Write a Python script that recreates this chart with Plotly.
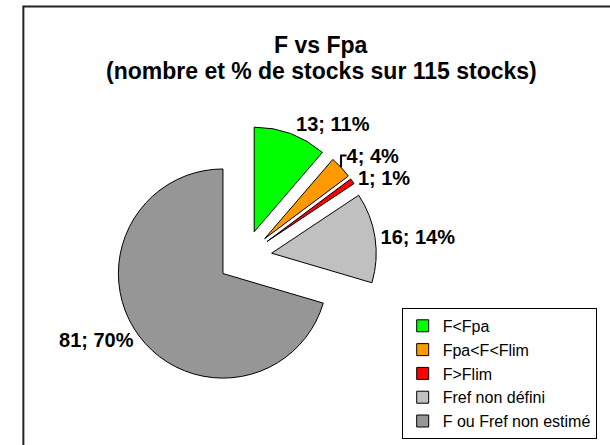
import plotly.graph_objects as go

categories = ["F<Fpa", "Fpa<F<Flim", "F>Flim", "Fref non défini", "F ou Fref non estimé"]
counts = [13, 4, 1, 16, 81]
pct_labels = ["11%", "4%", "1%", "14%", "70%"]
colors = ["#00FF00", "#FF9900", "#FF0000", "#C0C0C0", "#969696"]
title_lines = ["F vs Fpa", "(nombre et % de stocks sur 115 stocks)"]

W, H = 610, 445
FONT = "Liberation Sans, Arial, sans-serif"

fig = go.Figure(go.Pie(
    labels=categories,
    values=counts,
    text=pct_labels,
    texttemplate="%{value}; %{text}",
    textposition="outside",
    textfont=dict(family=FONT, size=20, color="black", weight="bold"),
    marker=dict(colors=colors, line=dict(color="black", width=1)),
    sort=False,
    direction="clockwise",
    rotation=0,
    pull=0.26,
    hoverinfo="label+value",
    domain=dict(x=[97 / W, 369 / W], y=[50 / H, 322 / H]),
))

fig.update_layout(
    width=W, height=H,
    margin=dict(l=0, r=0, t=0, b=0),
    paper_bgcolor="white",
    legend=dict(
        x=395 / W, xanchor="left", y=1 - 310 / H, yanchor="top",
        bordercolor="black", borderwidth=1, bgcolor="white",
        font=dict(family=FONT, size=16, color="black"),
    ),
    showlegend=True,
    annotations=[
        dict(text=title_lines[0], xref="paper", yref="paper", x=312 / W, xanchor="center",
             y=1 - 45 / H, yanchor="middle", showarrow=False,
             font=dict(family=FONT, size=23, color="black", weight="bold")),
        dict(text=title_lines[1], xref="paper", yref="paper", x=312 / W, xanchor="center",
             y=1 - 71 / H, yanchor="middle", showarrow=False,
             font=dict(family=FONT, size=23, color="black", weight="bold")),
    ],
    shapes=[dict(type="rect", xref="paper", yref="paper",
                 x0=4.5 / W, x1=1.02, y0=-0.02, y1=1 - 6.5 / H,
                 line=dict(color="#222222", width=2))],
)

fig.write_html(
    "out.html",
    config={"displayModeBar": False},
    post_script="document.body.style.margin='0';document.body.style.overflow='hidden';",
)
